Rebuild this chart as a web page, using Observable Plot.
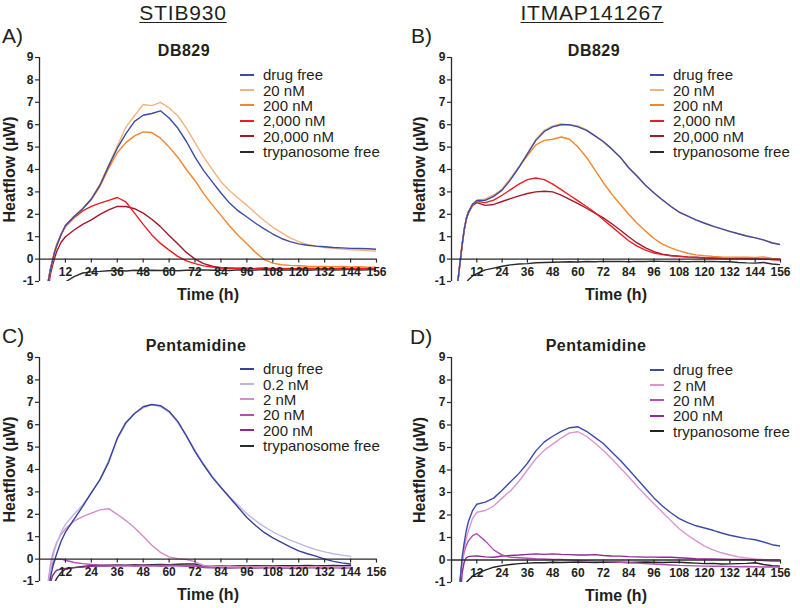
<!DOCTYPE html>
<html><head><meta charset="utf-8">
<script src="https://cdn.jsdelivr.net/npm/d3@7"></script>
<script src="https://cdn.jsdelivr.net/npm/@observablehq/plot@0.6"></script>
<style>
body{margin:0;background:#fff;}
#root{position:relative;width:800px;height:608px;font-family:"Liberation Sans",Arial,sans-serif;color:#231f20;overflow:hidden;background:#fff}
.abs{position:absolute;white-space:nowrap}
.head{font-size:21px;letter-spacing:0.8px;text-decoration:underline;text-underline-offset:2px;text-decoration-thickness:1px;transform:translateX(-50%)}
.tag{font-size:21px}
.sub{font-size:16px;font-weight:bold;letter-spacing:0.5px;transform:translateX(-50%)}
.leg{font-size:15px}
.leg .row{display:flex;align-items:center;height:15.4px}
.leg .sw{width:14px;height:2px;margin-right:9px}
.plot{position:absolute}
</style></head>
<body><div id="root"></div>
<script>
// ---------- data ----------
const T = [2,3,4,5,6,7,8,10,12,16,20,24,28,32,36,40,44,48,52,56,60,64,68,72,76,80,84,88,92,96,100,104,108,112,116,120,124,128,132,136,140,144,148,152,156];
const xTicks = [12,24,36,48,60,72,84,96,108,120,132,144,156];
const yTicks = [-1,0,1,2,3,4,5,6,7,8,9];

// Panel A: STIB930, DB829
const A_names = ["drug free","20 nM","200 nM","2,000 nM","20,000 nM","trypanosome free"];
const A_colors = ["#3c4ba2","#f6b47c","#f5862a","#ec1c24","#a3182a","#2b2b2b"];
const A_drugFree = [null,-3,-1.0,-0.5,-0.1,0.3,0.6,1.1,1.5,1.9,2.25,2.68,3.3,4.15,4.95,5.6,6.15,6.42,6.5,6.62,6.3,5.85,5.25,4.55,3.95,3.45,2.95,2.5,2.15,1.88,1.6,1.35,1.12,0.92,0.78,0.68,0.62,0.58,0.55,0.52,0.5,0.48,0.47,0.46,0.44];
const A_20nM = [null,-3,-1.0,-0.5,-0.1,0.3,0.6,1.1,1.5,1.9,2.25,2.7,3.35,4.2,5.05,5.9,6.4,6.9,6.85,7.0,6.75,6.4,5.85,5.2,4.55,4.0,3.45,3.05,2.72,2.4,2.05,1.72,1.42,1.18,0.95,0.78,0.66,0.58,0.52,0.48,0.45,0.42,0.4,0.38,0.35];
const A_200nM = [null,-3,-1.0,-0.5,-0.1,0.3,0.6,1.1,1.5,1.9,2.25,2.65,3.25,4.05,4.75,5.2,5.5,5.68,5.65,5.4,5.0,4.55,4.0,3.5,2.92,2.42,1.95,1.48,1.05,0.68,0.3,-0.02,-0.18,-0.25,-0.28,-0.3,-0.32,-0.33,-0.33,-0.34,-0.33,-0.35,-0.34,-0.36,-0.36];
const A_2000nM = [null,-3,-1.0,-0.45,-0.05,0.35,0.65,1.1,1.45,1.85,2.15,2.35,2.5,2.62,2.75,2.55,2.05,1.55,1.08,0.7,0.4,0.12,-0.08,-0.2,-0.3,-0.35,-0.4,-0.42,-0.41,-0.43,-0.42,-0.4,-0.43,-0.42,-0.44,-0.42,-0.41,-0.43,-0.42,-0.44,-0.42,-0.41,-0.43,-0.42,-0.44];
const A_20000nM = [null,-3.5,-1.4,-0.7,-0.3,0.05,0.35,0.75,1.0,1.3,1.55,1.75,2.0,2.2,2.35,2.35,2.25,2.05,1.78,1.45,1.05,0.68,0.3,0.0,-0.2,-0.32,-0.38,-0.4,-0.42,-0.41,-0.43,-0.42,-0.44,-0.43,-0.42,-0.44,-0.43,-0.42,-0.44,-0.43,-0.42,-0.44,-0.43,-0.42,-0.44];
const A_tryp = [null,null,null,null,null,null,null,null,-1.02,-0.78,-0.62,-0.57,-0.55,-0.52,-0.5,-0.53,-0.5,-0.52,-0.5,-0.51,-0.49,-0.52,-0.5,-0.5,-0.48,-0.5,-0.49,-0.51,-0.48,-0.5,-0.49,-0.47,-0.5,-0.48,-0.49,-0.47,-0.5,-0.48,-0.47,-0.49,-0.48,-0.46,-0.49,-0.48,-0.47];

// Panel B: ITMAP141267, DB829
const B_names = ["drug free","20 nM","200 nM","2,000 nM","20,000 nM","trypanosome free"];
const B_colors = ["#3c4ba2","#f6b47c","#f5862a","#ec1c24","#a3182a","#2b2b2b"];
const B_drugFree = [-2.5,-1.0,-0.2,0.6,1.3,1.8,2.1,2.45,2.62,2.62,2.8,3.08,3.55,4.1,4.7,5.3,5.7,5.9,6.0,6.0,5.9,5.75,5.5,5.25,4.92,4.55,4.08,3.7,3.3,2.95,2.65,2.35,2.1,1.92,1.75,1.6,1.47,1.35,1.24,1.13,1.03,0.95,0.86,0.72,0.65];
const B_20nM = [-2.5,-1.0,-0.2,0.6,1.3,1.8,2.1,2.45,2.6,2.68,2.85,3.12,3.6,4.12,4.72,5.35,5.75,5.95,6.05,5.98,5.95,5.78,5.52,5.22,4.9,4.55,4.1,3.72,3.28,2.97,2.63,2.37,2.08,1.93,1.73,1.62,1.45,1.36,1.22,1.14,1.02,0.96,0.84,0.74,0.65];
const B_200nM = [-2.5,-1.0,-0.2,0.6,1.3,1.8,2.1,2.45,2.62,2.68,2.85,3.12,3.6,4.12,4.62,5.1,5.3,5.35,5.45,5.35,5.0,4.55,3.98,3.41,2.9,2.45,2.0,1.6,1.25,0.92,0.67,0.5,0.37,0.26,0.19,0.15,0.12,0.1,0.09,0.08,0.08,0.07,0.1,0.03,0.0];
const B_2000nM = [-2.5,-1.0,-0.2,0.6,1.3,1.8,2.1,2.45,2.58,2.52,2.63,2.85,3.1,3.35,3.55,3.62,3.55,3.35,3.1,2.85,2.6,2.35,2.08,1.76,1.45,1.13,0.82,0.58,0.4,0.27,0.2,0.15,0.12,0.09,0.07,0.05,0.04,0.03,0.02,0.02,0.01,0.0,0.01,-0.02,-0.03];
const B_20000nM = [-2.5,-1.0,-0.2,0.6,1.3,1.75,2.05,2.4,2.52,2.4,2.44,2.57,2.7,2.82,2.93,3.0,3.03,3.0,2.86,2.67,2.48,2.27,2.05,1.84,1.58,1.3,1.0,0.72,0.5,0.33,0.22,0.16,0.13,0.1,0.08,0.06,0.05,0.04,0.03,0.02,0.02,0.01,0.0,-0.02,-0.03];
const B_tryp = [null,null,null,null,null,-1.05,-0.92,-0.75,-0.65,-0.48,-0.4,-0.32,-0.26,-0.22,-0.2,-0.16,-0.15,-0.14,-0.13,-0.12,-0.13,-0.11,-0.12,-0.1,-0.11,-0.1,-0.12,-0.1,-0.11,-0.09,-0.1,-0.11,-0.1,-0.12,-0.1,-0.11,-0.1,-0.12,-0.12,-0.15,-0.17,-0.18,-0.15,-0.22,-0.25];

// Panel C: STIB930, Pentamidine
const C_names = ["drug free","0.2 nM","2 nM","20 nM","200 nM","trypanosome free"];
const C_colors = ["#38409c","#bcb8e2","#d68cc8","#b44fb3","#8b2a8c","#2b2b2b"];
const C_drugFree = [null,-3,-1.8,-0.85,-0.4,-0.05,0.25,0.8,1.2,1.78,2.35,2.97,3.55,4.32,5.4,6.1,6.5,6.8,6.9,6.85,6.6,6.15,5.5,4.8,4.2,3.65,3.2,2.75,2.3,1.86,1.5,1.19,0.95,0.75,0.55,0.37,0.24,0.13,0.0,-0.1,-0.17,-0.22,null,null,null];
const C_02nM = [null,-2.5,-1.2,-0.5,0.0,0.4,0.7,1.2,1.55,2.0,2.42,2.95,3.55,4.4,5.35,6.05,6.5,6.75,6.9,6.8,6.55,6.1,5.5,4.85,4.25,3.7,3.2,2.78,2.4,2.02,1.72,1.45,1.22,1.02,0.85,0.7,0.55,0.42,0.32,0.24,0.18,0.12,null,null,null];
const C_2nM = [null,-2.5,-1.0,-0.3,0.2,0.5,0.75,1.1,1.35,1.7,1.9,2.05,2.2,2.25,2.0,1.72,1.4,1.02,0.62,0.3,0.1,0.02,-0.02,-0.12,-0.28,-0.32,-0.33,-0.34,-0.33,-0.35,-0.34,-0.33,-0.35,-0.34,-0.36,-0.34,-0.35,-0.33,-0.35,-0.34,-0.36,-0.35,null,null,null];
const C_20nM = [null,-2.5,-1.1,-0.5,-0.2,-0.05,0.0,0.0,-0.05,-0.15,-0.2,-0.24,-0.26,-0.27,-0.28,-0.27,-0.28,-0.27,-0.29,-0.28,-0.27,-0.28,-0.29,-0.28,-0.34,-0.35,-0.34,-0.36,-0.35,-0.34,-0.36,-0.35,-0.34,-0.36,-0.35,-0.37,-0.35,-0.34,-0.36,-0.35,-0.37,-0.36,null,null,null];
const C_200nM = [null,null,-2,-1.1,-0.75,-0.6,-0.5,-0.45,-0.42,-0.38,-0.35,-0.32,-0.3,-0.31,-0.3,-0.29,-0.31,-0.3,-0.29,-0.31,-0.3,-0.3,-0.31,-0.3,-0.38,-0.39,-0.38,-0.4,-0.39,-0.38,-0.4,-0.39,-0.38,-0.4,-0.39,-0.4,-0.38,-0.39,-0.4,-0.38,-0.4,-0.39,null,null,null];
const C_tryp = [null,null,null,null,null,-1.05,-0.85,-0.6,-0.45,-0.38,-0.33,-0.3,-0.28,-0.27,-0.26,-0.27,-0.25,-0.26,-0.25,-0.24,-0.25,-0.23,-0.22,-0.22,-0.33,-0.32,-0.31,-0.32,-0.3,-0.31,-0.3,-0.29,-0.31,-0.3,-0.29,-0.3,-0.28,-0.3,-0.29,-0.28,-0.3,-0.28,null,null,null];

// Panel D: ITMAP141267, Pentamidine
const D_names = ["drug free","2 nM","20 nM","200 nM","trypanosome free"];
const D_colors = ["#3c4ba8","#dc94d4","#b050b4","#8e2a92","#222222"];
const D_drugFree = [null,-2.5,-1.1,0.1,0.75,1.3,1.7,2.2,2.48,2.57,2.75,3.1,3.48,3.85,4.3,4.85,5.25,5.5,5.72,5.88,5.92,5.72,5.45,5.18,4.8,4.43,4.02,3.6,3.18,2.76,2.4,2.1,1.84,1.66,1.52,1.42,1.32,1.2,1.1,1.02,0.95,0.9,0.8,0.68,0.62];
const D_2nM = [null,-2.5,-1.0,-0.1,0.5,0.95,1.3,1.85,2.12,2.2,2.4,2.75,3.08,3.5,4.0,4.5,4.88,5.15,5.42,5.65,5.7,5.5,5.2,4.87,4.5,4.1,3.7,3.28,2.88,2.5,2.12,1.75,1.39,1.1,0.85,0.62,0.45,0.32,0.22,0.14,0.09,0.05,0.02,0.0,0.0];
const D_20nM = [null,-2.5,-0.9,-0.1,0.35,0.65,0.85,1.08,1.17,0.85,0.45,0.22,0.12,0.1,0.08,0.06,0.05,0.03,0.02,0.0,-0.02,-0.03,-0.05,-0.06,-0.08,-0.1,-0.12,-0.14,-0.16,-0.18,-0.2,-0.22,-0.24,-0.25,-0.26,-0.27,-0.28,-0.28,-0.29,-0.3,-0.29,-0.3,-0.31,-0.3,-0.32];
const D_200nM = [null,null,-2,-0.6,-0.1,0.1,0.15,0.17,0.18,0.14,0.12,0.18,0.2,0.22,0.25,0.27,0.25,0.27,0.25,0.24,0.22,0.22,0.24,0.2,0.18,0.17,0.15,0.14,0.13,0.13,0.12,0.12,0.1,0.08,0.06,0.05,0.05,0.04,0.03,0.02,0.02,0.0,-0.02,-0.05,-0.05];
const D_tryp = [null,null,null,null,null,-1.0,-0.9,-0.72,-0.6,-0.45,-0.32,-0.25,-0.2,-0.16,-0.14,-0.12,-0.12,-0.1,-0.11,-0.1,-0.09,-0.1,-0.11,-0.1,-0.09,-0.1,-0.11,-0.1,-0.09,-0.1,-0.11,-0.1,-0.1,-0.12,-0.14,-0.16,-0.15,-0.18,-0.17,-0.16,-0.15,-0.12,-0.2,-0.25,-0.28];

// ---------- build ----------
const root = document.getElementById("root");
function addText(cls, txt, left, top) {
  const d = document.createElement("div");
  d.className = "abs " + cls; d.textContent = txt;
  d.style.left = left + "px"; d.style.top = top + "px";
  root.appendChild(d);
}
function addLegend(names, colors, left, top) {
  const d = document.createElement("div");
  d.className = "abs leg"; d.style.left = left + "px"; d.style.top = top + "px";
  names.forEach((n, i) => {
    const r = document.createElement("div"); r.className = "row";
    const s = document.createElement("div"); s.className = "sw"; s.style.background = colors[i];
    const t = document.createElement("span"); t.textContent = n;
    r.appendChild(s); r.appendChild(t); d.appendChild(r);
  });
  root.appendChild(d);
}
function panel(names, colors, series, pos) {
  const rows = [];
  // draw trypanosome-free first, drug free last (on top)
  for (let i = series.length - 1; i >= 0; i--) {
    series[i].forEach((v, j) => rows.push({t: T[j], v: v, s: names[i]}));
  }
  const ink = "#2a2a2a";
  const p = Plot.plot({
    width: 390, height: 258,
    marginLeft: pos.ml, marginRight: pos.mr, marginTop: 12, marginBottom: pos.mb,
    x: {domain: [0, 156], axis: null},
    y: {domain: [-1, 9], axis: null},
    color: {domain: names, range: colors},
    style: {fontFamily: '"Liberation Sans", Arial, sans-serif', color: "#231f20", background: "transparent", overflow: "visible"},
    marks: [
      Plot.line(rows, {x: "t", y: "v", z: "s", stroke: "s", strokeWidth: 1.4, clip: true}),
      Plot.ruleY([0], {stroke: ink, strokeWidth: 1.3}),
      Plot.ruleX([0], {stroke: ink, strokeWidth: 1.3}),
      Plot.ruleX(xTicks, {x: d => d, y1: 0, y2: 0, insetBottom: -4, stroke: ink, strokeWidth: 1.2}),
      Plot.text(xTicks, {x: d => d, y: 0, dy: 13, text: d => String(d), fontSize: 12, fontWeight: "bold", fill: "#231f20"}),
      Plot.axisY({ticks: yTicks, tickSize: 4, tickPadding: 2, fontSize: 12, fontWeight: "bold", label: null, tickFormat: d => String(d), stroke: ink, strokeWidth: 1.2}),
      Plot.text(["Heatflow (µW)"], {text: d => d, frameAnchor: "left", rotate: -90, dx: -pos.lo, fontSize: 16, fontWeight: "bold", textAnchor: "middle", lineAnchor: "middle", fill: "#231f20"}),
      Plot.text(["Time (h)"], {text: d => d, frameAnchor: "bottom", dy: 13, fontSize: 16, fontWeight: "bold", textAnchor: "middle", lineAnchor: "middle", fill: "#231f20"})
    ]
  });
  p.classList.add("plot");
  p.style.left = pos.left + "px"; p.style.top = pos.top + "px";
  root.appendChild(p);
}

panel(A_names, A_colors, [A_drugFree, A_20nM, A_200nM, A_2000nM, A_20000nM, A_tryp], {left: 0, top: 45, ml: 39, mr: 14, mb: 22, lo: 30});
panel(B_names, B_colors, [B_drugFree, B_20nM, B_200nM, B_2000nM, B_20000nM, B_tryp], {left: 410, top: 45, ml: 41, mr: 20, mb: 22, lo: 32});
panel(C_names, C_colors, [C_drugFree, C_02nM, C_2nM, C_20nM, C_200nM, C_tryp], {left: 0, top: 345, ml: 39, mr: 14, mb: 22, lo: 30});
panel(D_names, D_colors, [D_drugFree, D_2nM, D_20nM, D_200nM, D_tryp], {left: 410, top: 345, ml: 41, mr: 20, mb: 21, lo: 32});

addText("head", "STIB930", 183, 1);
addText("head", "ITMAP141267", 592, 1);
addText("tag", "A)", 2, 24);
addText("tag", "B)", 411, 24);
addText("tag", "C)", 2, 324);
addText("tag", "D)", 410, 325);
addText("sub", "DB829", 184, 42);
addText("sub", "DB829", 594, 42);
addText("sub", "Pentamidine", 196, 337);
addText("sub", "Pentamidine", 596, 337);
addLegend(A_names, A_colors, 240, 67);
addLegend(B_names, B_colors, 650, 67);
addLegend(C_names, C_colors, 240, 361);
addLegend(D_names, D_colors, 650, 362);
</script></body></html>
